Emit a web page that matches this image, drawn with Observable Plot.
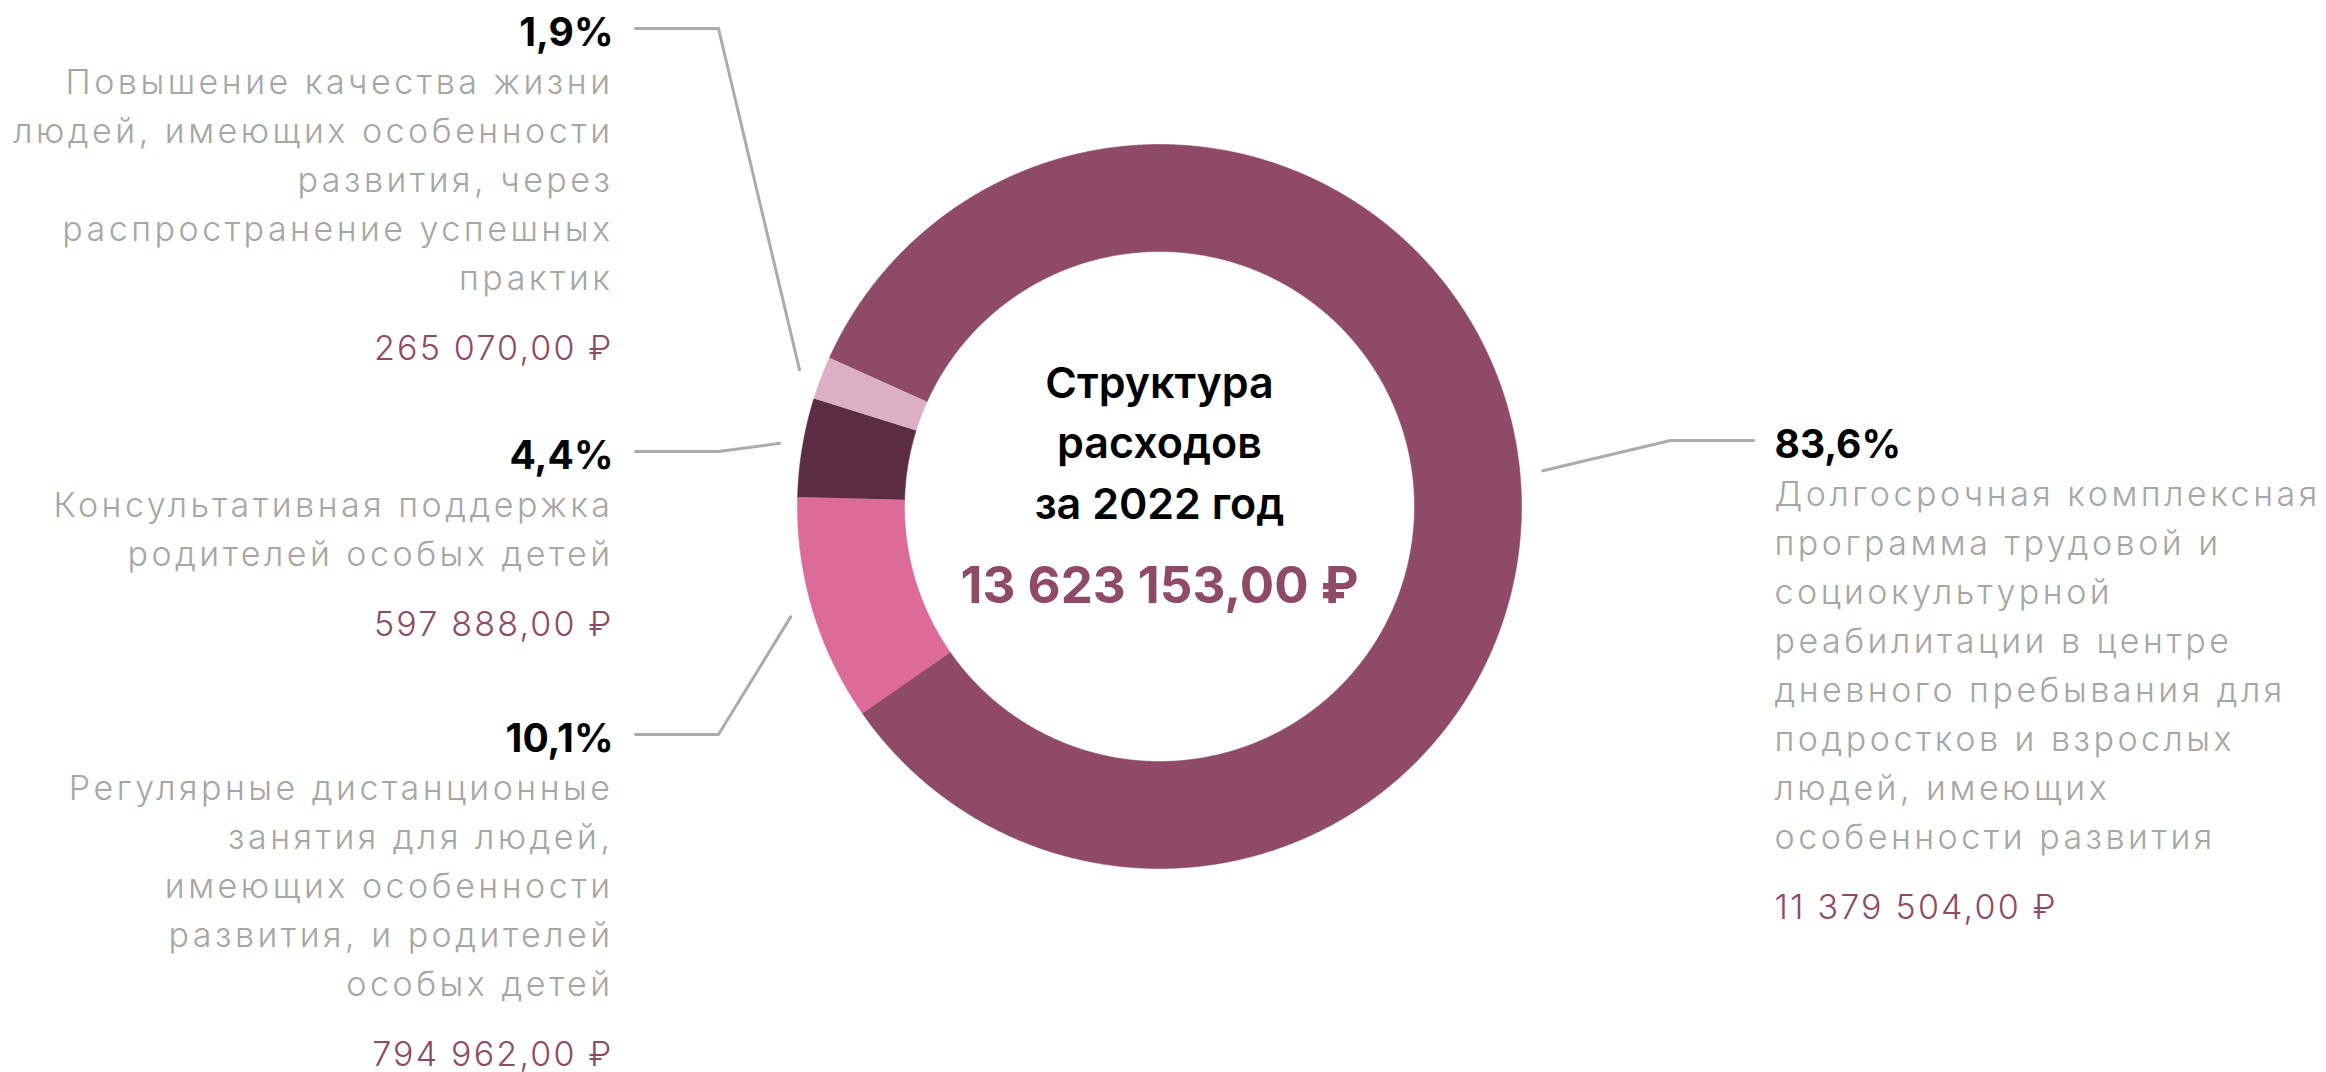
<!DOCTYPE html>
<html>
<head>
<meta charset="utf-8">
<script src="https://cdn.jsdelivr.net/npm/d3@7"></script>
<script src="https://cdn.jsdelivr.net/npm/@observablehq/plot@0.6"></script>
<style>
  html, body { margin: 0; padding: 0; background: #ffffff; }
  #chart svg { display: block; }
  #chart g[fill="#a6a6a6"] { letter-spacing: 3.5px; }
  #chart g[fill="#8f4a66"][font-weight="300"] { letter-spacing: 2.2px; }
</style>
</head>
<body>
<div id="chart"></div>
<script>
// ---------- DATA ----------
const categories = [
  "Долгосрочная комплексная\nпрограмма трудовой и\nсоциокультурной\nреабилитации в центре\nдневного пребывания для\nподростков и взрослых\nлюдей, имеющих\nособенности развития",
  "Регулярные дистанционные\nзанятия для людей,\nимеющих особенности\nразвития, и родителей\nособых детей",
  "Консультативная поддержка\nродителей особых детей",
  "Повышение качества жизни\nлюдей, имеющих особенности\nразвития, через\nраспространение успешных\nпрактик"
];
const shares = [83.6, 10.1, 4.4, 1.9];
const shareLabels = ["83,6%", "10,1%", "4,4%", "1,9%"];
const amountLabels = ["11 379 504,00 ₽", "794 962,00 ₽", "597 888,00 ₽", "265 070,00 ₽"];
const centerTitle = ["Структура", "расходов", "за 2022 год"];
const centerTotal = "13 623 153,00 ₽";

// ---------- STYLE & LAYOUT ----------
const colors = ["#8f4a66", "#dd6b99", "#5c2d42", "#dcb0c2"];
const W = 2326, H = 1072;
const cx = 1159, cy = 506, rOuter = 362, rInner = 255, rLeader = 385;
const startDeg = 294.2;
const labelSide = ["right", "left", "left", "left"];
const labelBaseline = [457, 751, 468, 45];
const leftTextX = 613, rightTextX = 1774;
const leftElbowX = 718, rightElbowX = 1670;
const leftLineEndX = 635, rightLineEndX = 1753;
const FONT = "Inter, 'Open Sans', sans-serif";

// ---------- GEOMETRY (derived from data) ----------
const rad = Math.PI / 180;
const arcs = d3.pie().sort(null).value(d => d)
  .startAngle(startDeg * rad).endAngle(startDeg * rad + 2 * Math.PI)(shares);

const pt = (r, a) => [cx + r * Math.sin(a), cy - r * Math.cos(a)];

const slicePts = [];
arcs.forEach((a, i) => {
  const n = Math.max(4, Math.ceil((a.endAngle - a.startAngle) / (0.25 * rad)));
  for (let k = 0; k <= n; k++) {
    const t = a.startAngle + (a.endAngle - a.startAngle) * k / n;
    const [x, y] = pt(rOuter, t);
    slicePts.push({cat: categories[i], x, y});
  }
  for (let k = n; k >= 0; k--) {
    const t = a.startAngle + (a.endAngle - a.startAngle) * k / n;
    const [x, y] = pt(rInner, t);
    slicePts.push({cat: categories[i], x, y});
  }
});

const leaderPts = [];
arcs.forEach((a, i) => {
  const mid = (a.startAngle + a.endAngle) / 2;
  const [x0, y0] = pt(rLeader, mid);
  const ly = labelBaseline[i] - 17;
  const left = labelSide[i] === "left";
  leaderPts.push({cat: categories[i], x: x0, y: y0});
  leaderPts.push({cat: categories[i], x: left ? leftElbowX : rightElbowX, y: ly});
  leaderPts.push({cat: categories[i], x: left ? leftLineEndX : rightLineEndX, y: ly});
});

const pctRows = [], descRows = [], amtRows = [];
categories.forEach((c, i) => {
  const side = labelSide[i];
  const x = side === "left" ? leftTextX : rightTextX;
  const P = labelBaseline[i];
  pctRows.push({side, x, y: P, text: shareLabels[i]});
  const lines = c.split("\n");
  lines.forEach((l, k) => descRows.push({side, x, y: P + 48 + 49 * k, text: l}));
  amtRows.push({side, x, y: P + 48 + 49 * (lines.length - 1) + 70, text: amountLabels[i]});
});

function sideText(rows, opts) {
  return ["left", "right"].map(s => Plot.text(rows.filter(d => d.side === s), {
    x: "x", y: "y", text: "text", lineAnchor: "bottom",
    textAnchor: s === "left" ? "end" : "start", fontFamily: FONT, ...opts
  }));
}

const centerRows = centerTitle.map((t, k) => ({x: cx, y: cy - 109 + 60.5 * k, text: t}));

const chart = Plot.plot({
  width: W, height: H, margin: 0,
  x: {domain: [0, W], range: [0, W], axis: null},
  y: {domain: [0, H], range: [0, H], axis: null},
  color: {domain: categories, range: colors},
  style: {background: "#ffffff"},
  marks: [
    Plot.line(slicePts, {x: "x", y: "y", z: "cat", fill: "cat", stroke: "cat", strokeWidth: 0.6}),
    Plot.line(leaderPts, {x: "x", y: "y", z: "cat", stroke: "#ababab", strokeWidth: 3}),
    ...sideText(pctRows, {fontSize: 39, fontWeight: 700, fill: "#000000"}),
    ...sideText(descRows, {fontSize: 34, fontWeight: 300, fill: "#a6a6a6"}),
    ...sideText(amtRows, {fontSize: 34, fontWeight: 300, fill: "#8f4a66"}),
    Plot.text(centerRows, {x: "x", y: "y", text: "text", lineAnchor: "bottom", textAnchor: "middle",
      fontFamily: FONT, fontSize: 43, fontWeight: 600, fill: "#000000"}),
    Plot.text([{x: cx, y: cy + 96, text: centerTotal}], {x: "x", y: "y", text: "text", lineAnchor: "bottom",
      textAnchor: "middle", fontFamily: FONT, fontSize: 51, fontWeight: 700, fill: "#8f4a66"})
  ]
});
document.getElementById("chart").appendChild(chart);
</script>
</body>
</html>
